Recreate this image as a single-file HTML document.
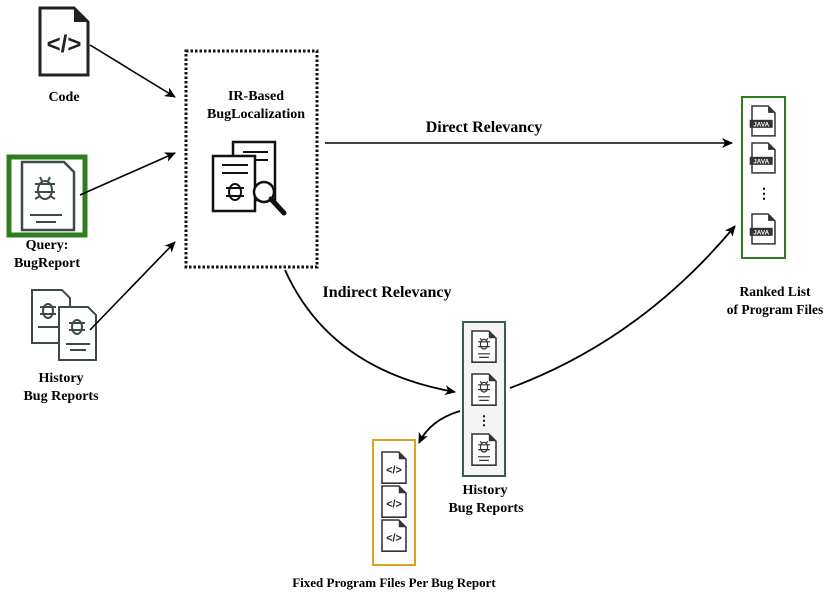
<!DOCTYPE html>
<html><head><style>
body{margin:0;background:#fff;}
svg{display:block;font-family:"Liberation Serif",serif;font-weight:bold;}
</style></head><body>
<svg width="831" height="595" viewBox="0 0 831 595" xmlns="http://www.w3.org/2000/svg">
<defs>
<marker id="ah" markerWidth="12" markerHeight="10" refX="10" refY="5" orient="auto" markerUnits="userSpaceOnUse">
<path d="M0,0 L11,5 L0,10 L3,5 Z" fill="#000"/></marker>
<g id="doc"><path d="M0,0 H14 L20,6 V26 H0 Z" fill="#fff" stroke="#333" stroke-width="1.3"/><path d="M14,0 V6 H20" fill="#333"/></g>
<g id="code"><use href="#doc"/><text x="10" y="18" font-family="Liberation Sans" font-size="9" text-anchor="middle" fill="#222">&lt;/&gt;</text></g>
<g id="java"><use href="#doc"/><rect x="-2" y="12" width="20" height="7" fill="#333"/><text x="8" y="18" font-family="Liberation Sans" font-size="5.5" text-anchor="middle" fill="#fff">JAVA</text></g>
<g id="bug"><use href="#doc"/><ellipse cx="10" cy="11" rx="3" ry="4" fill="none" stroke="#333"/><path d="M5,9 H15 M5,13 H15 M7,6 L8,8 M13,6 L12,8 M5,19 H15 M6,22 H14" stroke="#333" fill="none"/></g>
</defs>

<!-- Code icon -->
<path d="M40,8 H74 L88,22 V75 H40 Z" fill="#fff" stroke="#222" stroke-width="3"/>
<path d="M74,8 V22 H88 Z" fill="#222"/>
<text x="64" y="52" font-family="Liberation Sans" font-size="24" text-anchor="middle" fill="#222">&lt;/&gt;</text>
<text x="64" y="101" font-size="14" text-anchor="middle">Code</text>

<!-- Query -->
<rect x="9" y="157" width="76" height="78" fill="#fff" stroke="#2e7d1e" stroke-width="5"/>
<path d="M22,162 H64 L74,172 V230 H22 Z" fill="#fff" stroke="#3d4a4a" stroke-width="2.5"/>
<ellipse cx="45" cy="190" rx="7" ry="9" fill="none" stroke="#3d4a4a" stroke-width="2"/>
<path d="M35,184 H55 M35,192 H55 M35,199 L40,196 M55,199 L50,196 M40,177 L42,181 M50,177 L48,181 M30,215 H62 M36,222 H56" stroke="#3d4a4a" stroke-width="2" fill="none"/>
<text x="47" y="249" font-size="14" text-anchor="middle">Query:</text>
<text x="47" y="267" font-size="14" text-anchor="middle">BugReport</text>

<!-- History icons left -->
<path d="M32,290 H62 L70,298 V343 H32 Z" fill="#fff" stroke="#3d4a4a" stroke-width="2"/>
<ellipse cx="48" cy="311" rx="5" ry="7" fill="none" stroke="#3d4a4a" stroke-width="2"/>
<path d="M40,307 H56 M40,314 H56 M38,327 H62" stroke="#3d4a4a" stroke-width="2"/>
<path d="M59,307 H88 L96,315 V360 H59 Z" fill="#fff" stroke="#3d4a4a" stroke-width="2"/>
<ellipse cx="77" cy="327" rx="5" ry="7" fill="none" stroke="#3d4a4a" stroke-width="2"/>
<path d="M69,323 H85 M69,330 H85 M66,344 H90 M70,350 H86" stroke="#3d4a4a" stroke-width="2"/>
<text x="61" y="382" font-size="14" text-anchor="middle">History</text>
<text x="61" y="400" font-size="14" text-anchor="middle">Bug Reports</text>

<!-- arrows left -->
<path d="M90,45 L175,97" stroke="#000" stroke-width="1.6" marker-end="url(#ah)"/>
<path d="M80,195 L175,153" stroke="#000" stroke-width="1.6" marker-end="url(#ah)"/>
<path d="M90,330 L175,242" stroke="#000" stroke-width="1.6" marker-end="url(#ah)"/>

<!-- IR box -->
<rect x="186" y="51" width="131" height="216" fill="#fff" stroke="#111" stroke-width="3" stroke-dasharray="2.5,2"/>
<text x="256" y="100" font-size="14" text-anchor="middle">IR-Based</text>
<text x="256" y="118" font-size="14" text-anchor="middle">BugLocalization</text>
<path d="M233,142 H275 V200 H233 Z" fill="#fff" stroke="#111" stroke-width="2.5"/>
<path d="M243,152 H268 M243,160 H268" stroke="#111" stroke-width="2"/>
<path d="M213,156 H255 V211 H213 Z" fill="#fff" stroke="#111" stroke-width="2.5"/>
<path d="M222,165 H248 M222,173 H248" stroke="#111" stroke-width="2"/>
<ellipse cx="235" cy="192" rx="6" ry="8" fill="none" stroke="#111" stroke-width="2"/>
<path d="M226,188 H244 M226,196 H244" stroke="#111" stroke-width="2"/>
<circle cx="264" cy="192" r="10" fill="#fff" stroke="#111" stroke-width="2.5"/>
<path d="M271,199 L284,213" stroke="#111" stroke-width="5" stroke-linecap="round"/>

<!-- Direct -->
<path d="M325,143 L732,143" stroke="#000" stroke-width="1.5" marker-end="url(#ah)"/>
<text x="484" y="132" font-size="16" text-anchor="middle">Direct Relevancy</text>

<!-- Ranked -->
<rect x="742" y="97" width="43" height="161" fill="#fff" stroke="#2e7d1e" stroke-width="2"/>
<use href="#java" transform="translate(752,106) scale(1.15)"/>
<use href="#java" transform="translate(752,143) scale(1.15)"/>
<text x="764" y="198" font-size="14" text-anchor="middle" font-family="Liberation Sans">⋮</text>
<use href="#java" transform="translate(752,214) scale(1.15)"/>
<text x="775" y="296" font-size="13.5" text-anchor="middle">Ranked List</text>
<text x="775" y="314" font-size="13.5" text-anchor="middle">of Program Files</text>

<!-- Indirect -->
<text x="387" y="297" font-size="16" text-anchor="middle">Indirect Relevancy</text>
<path d="M285,270 Q330,370 455,392" fill="none" stroke="#000" stroke-width="1.8" marker-end="url(#ah)"/>
<path d="M510,388 Q640,340 735,226" fill="none" stroke="#000" stroke-width="1.8" marker-end="url(#ah)"/>
<path d="M460,411 Q430,420 419,443" fill="none" stroke="#000" stroke-width="1.8" marker-end="url(#ah)"/>

<!-- History box -->
<rect x="463" y="322" width="42" height="154" fill="#f4f4f4" stroke="#3d5a5a" stroke-width="2"/>
<use href="#bug" transform="translate(472,331) scale(1.2)"/>
<use href="#bug" transform="translate(472,374) scale(1.2)"/>
<text x="484" y="425" font-size="13" text-anchor="middle" font-family="Liberation Sans">⋮</text>
<use href="#bug" transform="translate(472,434) scale(1.2)"/>
<text x="485" y="494" font-size="14" text-anchor="middle">History</text>
<text x="486" y="512" font-size="14" text-anchor="middle">Bug Reports</text>

<!-- Fixed -->
<rect x="373" y="440" width="42" height="125" fill="#fff" stroke="#e0a020" stroke-width="2"/>
<use href="#code" transform="translate(382,452) scale(1.2)"/>
<use href="#code" transform="translate(382,486) scale(1.2)"/>
<use href="#code" transform="translate(382,520) scale(1.2)"/>
<text x="394" y="587" font-size="13" text-anchor="middle">Fixed Program Files Per Bug Report</text>
</svg>
</body></html>
